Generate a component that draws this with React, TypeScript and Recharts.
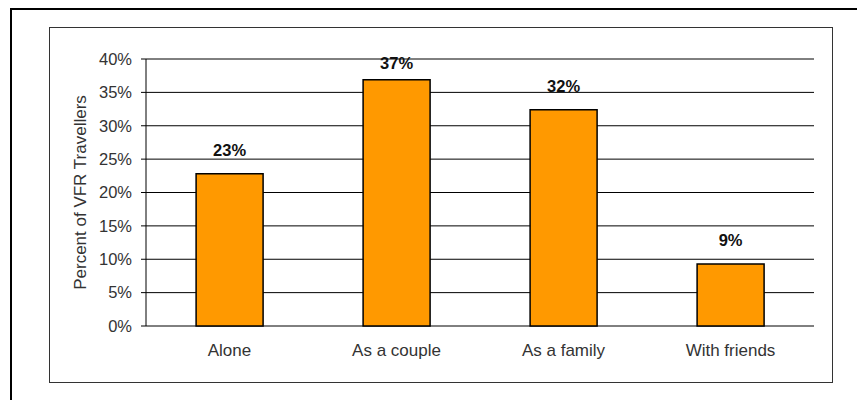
import { BarChart, Bar, XAxis, YAxis, CartesianGrid, LabelList } from 'recharts';

const categories = ['Alone', 'As a couple', 'As a family', 'With friends'];
const shares = [22.8, 36.9, 32.4, 9.3];
const shareLabels = ['23%', '37%', '32%', '9%'];
const yTicks = [0, 5, 10, 15, 20, 25, 30, 35, 40];
const boundaryTicks = [0, 1, 2, 3, 4];

const data = categories.map((name, i) => ({
  name,
  pos: i + 0.5,
  value: shares[i],
  label: shareLabels[i],
}));

const font = '"Liberation Sans", Arial, sans-serif';
const PLOT_TOP = 59;

// value label above each bar; kept inside the plot like the spreadsheet does
const renderValueLabel = (props: any) => {
  const { x, y, width, value } = props;
  const cy = Math.max(Number(y) - 24, PLOT_TOP + 4);
  return (
    <text
      x={Number(x) + Number(width) / 2}
      y={cy}
      dy="0.35em"
      textAnchor="middle"
      fill="#111"
      fontSize={16.5}
      fontWeight="bold"
      fontFamily={font}
    >
      {value}
    </text>
  );
};

const App = () => {
  return (
    <div style={{ position: 'absolute', left: 0, top: 0, width: 857, height: 400, background: '#fff', overflow: 'hidden', fontFamily: font }}>
      <div style={{ position: 'absolute', left: 10, top: 8, width: 900, height: 450, border: '2px solid #000', boxSizing: 'border-box' }} />
      <div style={{ position: 'absolute', left: 49, top: 27, width: 784, height: 356, border: '1px solid #333', boxSizing: 'border-box' }} />
      <div style={{ position: 'absolute', left: 0, top: 0 }}>
        <BarChart
          width={857}
          height={400}
          data={data}
          margin={{ top: PLOT_TOP, right: 43, bottom: 44, left: 86 }}
          barCategoryGap="30%"
        >
          <CartesianGrid vertical={false} stroke="#000" strokeWidth={1} yAxisId="left" />
          <XAxis
            xAxisId="ticks"
            type="number"
            dataKey="pos"
            domain={[0, 4]}
            ticks={boundaryTicks}
            height={0}
            tick={false}
            tickSize={5}
            stroke="#000"
          />
          <XAxis
            xAxisId="cat"
            dataKey="name"
            height={30}
            axisLine={false}
            tickLine={false}
            tickSize={0}
            tickMargin={18}
            tick={{ fill: '#333', fontSize: 17, fontFamily: font }}
          />
          <YAxis
            yAxisId="left"
            domain={[0, 40]}
            ticks={yTicks}
            width={60}
            tickSize={5}
            tickMargin={9}
            stroke="#000"
            tickFormatter={(v: number) => `${v}%`}
            tick={{ fill: '#333', fontSize: 16.5, fontFamily: font }}
            label={{
              value: 'Percent of VFR Travellers',
              angle: -90,
              position: 'center',
              dx: -36,
              style: { fill: '#333', fontSize: 17, fontFamily: font, textAnchor: 'middle' },
            }}
          />
          <YAxis
            yAxisId="right"
            orientation="right"
            domain={[0, 40]}
            width={0}
            tick={false}
            tickLine={false}
            stroke="#888"
          />
          <Bar
            dataKey="value"
            xAxisId="cat"
            yAxisId="left"
            fill="#FF9900"
            stroke="#000"
            strokeWidth={1.5}
            isAnimationActive={false}
          >
            <LabelList dataKey="label" content={renderValueLabel} />
          </Bar>
        </BarChart>
      </div>
    </div>
  );
};

export default App;
